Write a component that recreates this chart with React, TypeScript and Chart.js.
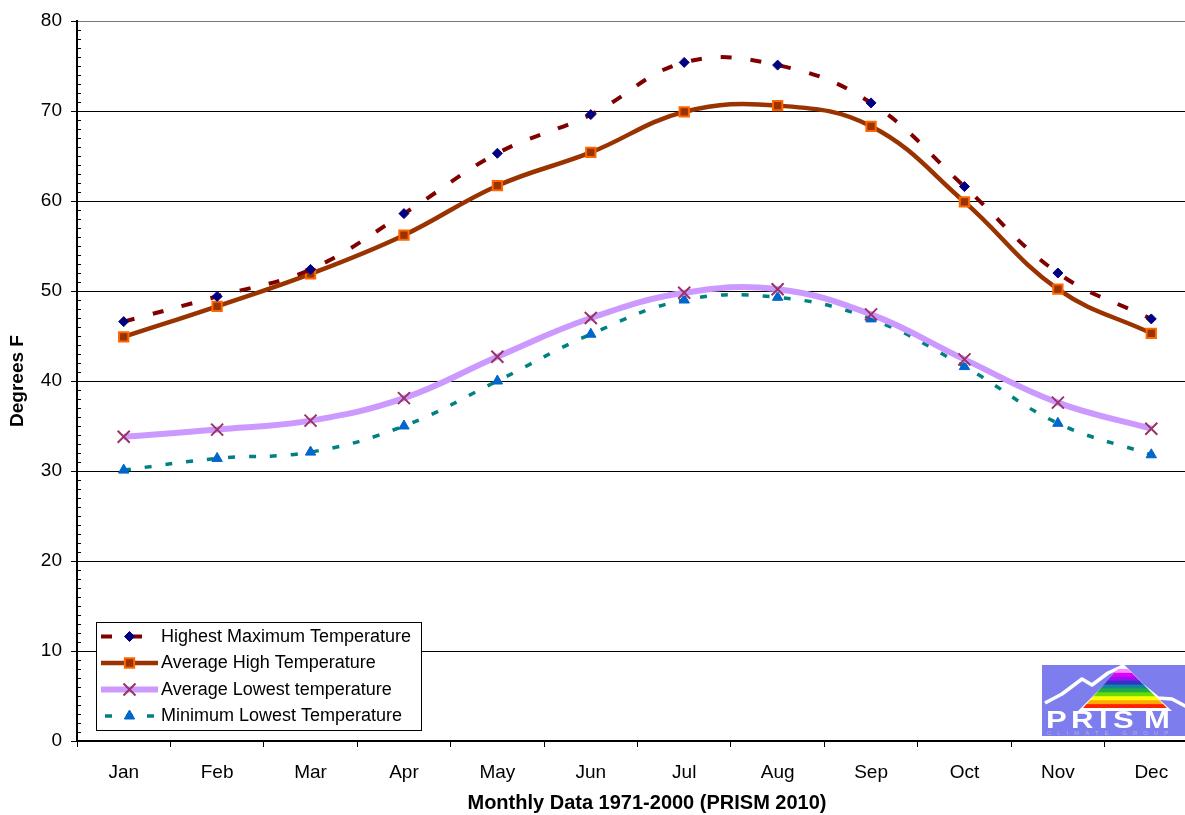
import React, { useEffect, useRef } from 'react';
import { Chart, registerables } from 'chart.js';

Chart.register(...registerables);

const months = ['Jan', 'Feb', 'Mar', 'Apr', 'May', 'Jun', 'Jul', 'Aug', 'Sep', 'Oct', 'Nov', 'Dec'];
const highestMax = [46.6, 49.4, 52.4, 58.6, 65.3, 69.6, 75.4, 75.1, 70.9, 61.6, 52.0, 46.9];
const avgHigh = [44.9, 48.3, 51.9, 56.2, 61.7, 65.4, 69.9, 70.6, 68.3, 59.9, 50.2, 45.3];
const avgLow = [33.8, 34.6, 35.6, 38.1, 42.7, 47.0, 49.8, 50.2, 47.4, 42.4, 37.6, 34.7];
const minLow = [30.1, 31.4, 32.1, 35.0, 40.0, 45.2, 49.0, 49.3, 46.9, 41.6, 35.3, 31.8];
const seriesNames = [
  'Highest Maximum Temperature',
  'Average High Temperature',
  'Average Lowest temperature',
  'Minimum Lowest Temperature',
];
const yMin = 0;
const yMax = 80;
const yMajor = 10;
const yTitle = 'Degrees F';
const xTitle = 'Monthly Data 1971-2000 (PRISM 2010)';
const logoText = 'PRISM';
const logoSub = 'CLIMATE GROUP';

const FONT = "'Liberation Sans', Arial, sans-serif";
const CANVAS_W = 1212;
const CANVAS_H = 815;

type Sty = {
  line: string; width: number; dash: number[];
  point: string; r: number; fill: string; stroke: string; plw: number;
};
const styles: Sty[] = [
  { line: '#800000', width: 4, dash: [11, 19], point: 'rectRot', r: 5, fill: '#000080', stroke: '#000080', plw: 1 },
  { line: '#993300', width: 4.5, dash: [], point: 'rect', r: 6.6, fill: '#993300', stroke: '#FF6600', plw: 2 },
  { line: '#CC99FF', width: 6, dash: [], point: 'crossRot', r: 8.5, fill: '#993366', stroke: '#993366', plw: 2 },
  { line: '#008080', width: 3.5, dash: [7, 14], point: 'triangle', r: 6, fill: '#0066CC', stroke: '#0066CC', plw: 1 },
];

function drawMarker(ctx: CanvasRenderingContext2D, s: Sty, x: number, y: number) {
  const r = s.r;
  ctx.save();
  ctx.setLineDash([]);
  ctx.fillStyle = s.fill;
  ctx.strokeStyle = s.stroke;
  ctx.lineWidth = s.plw;
  ctx.beginPath();
  if (s.point === 'rectRot') {
    ctx.moveTo(x, y - r); ctx.lineTo(x + r, y); ctx.lineTo(x, y + r); ctx.lineTo(x - r, y); ctx.closePath();
    ctx.fill(); ctx.stroke();
  } else if (s.point === 'rect') {
    const h = r * Math.SQRT1_2;
    ctx.rect(x - h, y - h, 2 * h, 2 * h);
    ctx.fill(); ctx.stroke();
  } else if (s.point === 'crossRot') {
    const d = r * Math.SQRT1_2;
    ctx.moveTo(x - d, y - d); ctx.lineTo(x + d, y + d);
    ctx.moveTo(x + d, y - d); ctx.lineTo(x - d, y + d);
    ctx.stroke();
  } else if (s.point === 'triangle') {
    ctx.moveTo(x, y - r);
    ctx.lineTo(x + r * Math.sin(2 * Math.PI / 3), y - r * Math.cos(2 * Math.PI / 3));
    ctx.lineTo(x + r * Math.sin(4 * Math.PI / 3), y - r * Math.cos(4 * Math.PI / 3));
    ctx.closePath();
    ctx.fill(); ctx.stroke();
  }
  ctx.restore();
}

function drawLogo(ctx: CanvasRenderingContext2D, x0: number, y0: number) {
  ctx.save();
  ctx.fillStyle = '#7d7ded';
  ctx.fillRect(x0, y0, 150, 71);
  // white mountain ridges
  ctx.strokeStyle = '#ffffff';
  ctx.lineWidth = 3.5;
  ctx.lineJoin = 'round';
  ctx.beginPath();
  ctx.moveTo(x0 + 3, y0 + 38);
  ctx.lineTo(x0 + 20, y0 + 29);
  ctx.lineTo(x0 + 40, y0 + 14);
  ctx.lineTo(x0 + 50, y0 + 20);
  ctx.lineTo(x0 + 66, y0 + 8);
  ctx.lineTo(x0 + 81, y0 + 1);
  ctx.lineTo(x0 + 100, y0 + 20);
  ctx.lineTo(x0 + 116, y0 + 33);
  ctx.lineTo(x0 + 130, y0 + 34);
  ctx.lineTo(x0 + 145, y0 + 42);
  ctx.stroke();
  // white triangle behind rainbow
  ctx.fillStyle = '#ffffff';
  ctx.beginPath();
  ctx.moveTo(x0 + 81, y0 + 1);
  ctx.lineTo(x0 + 130, y0 + 46);
  ctx.lineTo(x0 + 36, y0 + 46);
  ctx.closePath();
  ctx.fill();
  // rainbow triangle
  ctx.save();
  ctx.beginPath();
  ctx.moveTo(x0 + 76, y0 + 4);
  ctx.lineTo(x0 + 86, y0 + 4);
  ctx.lineTo(x0 + 125, y0 + 43);
  ctx.lineTo(x0 + 41, y0 + 43);
  ctx.closePath();
  ctx.clip();
  const bands = ['#ff88ff', '#dd00ff', '#9911ee', '#3333cc', '#118899', '#22aa44', '#66dd00', '#ffff00', '#ffaa00', '#ff2200'];
  const top = y0 + 4;
  const bh = 39 / bands.length;
  bands.forEach((c, i) => {
    ctx.fillStyle = c;
    ctx.fillRect(x0 + 30, top + i * bh, 100, bh + 0.5);
  });
  ctx.restore();
  // PRISM text
  ctx.fillStyle = '#ffffff';
  ctx.font = `bold 23px ${FONT}`;
  ctx.textBaseline = 'alphabetic';
  const xs = [4, 29, 57, 71, 102];
  logoText.split('').forEach((ch, i) => {
    ctx.save();
    ctx.translate(x0 + xs[i], y0 + 63);
    ctx.scale(1.35, 1);
    ctx.fillText(ch, 0, 0);
    ctx.restore();
  });
  ctx.fillStyle = '#b0b0d8';
  ctx.font = `6px ${FONT}`;
  (ctx as any).letterSpacing = '6px';
  ctx.fillText(logoSub, x0 + 5, y0 + 70);
  ctx.restore();
}

const decorPlugin = {
  id: 'decor',
  afterDraw(chart: any) {
    const ctx: CanvasRenderingContext2D = chart.ctx;
    const area = chart.chartArea;
    const ys = chart.scales.y;
    ctx.save();
    // y ticks: major outside, minor inside
    ctx.strokeStyle = '#000';
    ctx.lineWidth = 1;
    ctx.beginPath();
    for (let v = yMin; v <= yMax; v++) {
      const py = Math.round(ys.getPixelForValue(v)) + 0.5;
      if (v % yMajor === 0) {
        ctx.moveTo(area.left - 6, py); ctx.lineTo(area.left, py);
      } else {
        ctx.moveTo(area.left, py); ctx.lineTo(area.left + 4, py);
      }
    }
    ctx.stroke();

    // axis titles
    ctx.fillStyle = '#000';
    ctx.font = `bold 19px ${FONT}`;
    ctx.textAlign = 'center';
    ctx.textBaseline = 'middle';
    ctx.save();
    ctx.translate(18, (area.top + area.bottom) / 2);
    ctx.rotate(-Math.PI / 2);
    ctx.fillText(yTitle, 0, 0);
    ctx.restore();
    ctx.font = `bold 20px ${FONT}`;
    ctx.fillText(xTitle, 647, 803);

    // legend
    const lx = 96.5, ly = 622.5, lw = 325, lh = 108;
    ctx.fillStyle = '#fff';
    ctx.fillRect(lx, ly, lw, lh);
    ctx.strokeStyle = '#000';
    ctx.lineWidth = 1;
    ctx.strokeRect(lx, ly, lw, lh);
    const rowY = [636.5, 663, 689.5, 716];
    seriesNames.forEach((name, i) => {
      const s = styles[i];
      const y = rowY[i];
      ctx.save();
      ctx.strokeStyle = s.line;
      ctx.lineWidth = s.width;
      ctx.setLineDash(s.dash);
      ctx.lineDashOffset = i === 3 ? -4 : 0;
      ctx.beginPath();
      ctx.moveTo(101, y);
      ctx.lineTo(158, y);
      ctx.stroke();
      ctx.restore();
      drawMarker(ctx, s, 129.5, y);
      ctx.fillStyle = '#000';
      ctx.font = `18px ${FONT}`;
      ctx.textAlign = 'left';
      ctx.textBaseline = 'middle';
      ctx.fillText(name, 161, y + 0.5);
    });

    drawLogo(ctx, 1042, 665);
    ctx.restore();
  },
};

export default function App() {
  const ref = useRef<HTMLCanvasElement | null>(null);
  useEffect(() => {
    if (!ref.current) return;
    const series = [highestMax, avgHigh, avgLow, minLow];
    const chart = new Chart(ref.current, {
      type: 'line',
      data: {
        labels: months,
        datasets: series.map((d, i) => {
          const s = styles[i];
          return {
            label: seriesNames[i],
            data: d,
            borderColor: s.line,
            borderWidth: s.width,
            borderDash: s.dash,
            borderCapStyle: 'butt',
            tension: 0.4,
            fill: false,
            pointStyle: s.point,
            pointRadius: s.r,
            pointHoverRadius: s.r,
            pointBackgroundColor: s.fill,
            pointBorderColor: s.stroke,
            pointBorderWidth: s.plw,
          } as any;
        }),
      },
      options: {
        responsive: false,
        animation: false,
        devicePixelRatio: 1,
        layout: { padding: { top: 21, right: CANVAS_W - 1198, left: 0, bottom: 0 } },
        plugins: { legend: { display: false }, tooltip: { enabled: false }, title: { display: false } },
        scales: {
          x: {
            type: 'category',
            offset: true,
            grid: { offset: true, drawOnChartArea: false, drawTicks: true, tickLength: 6, color: '#000', lineWidth: 1 },
            border: { display: true, color: '#000', width: 2 },
            ticks: { color: '#000', font: { family: FONT, size: 19 }, padding: 14, maxRotation: 0, autoSkip: false },
            afterFit: (s: any) => { s.height = 74; s.paddingLeft = 0; s.paddingRight = 0; },
          },
          y: {
            min: yMin,
            max: yMax,
            grid: {
              drawTicks: false,
              color: (c: any) => (c.tick && c.tick.value % yMajor === 0 ? (c.tick.value === yMax ? '#777' : '#000') : 'rgba(0,0,0,0)'),
              lineWidth: 1,
            },
            border: { display: true, color: '#000', width: 2 },
            ticks: {
              stepSize: 1,
              autoSkip: false,
              color: '#000',
              font: { family: FONT, size: 19 },
              padding: 15,
              callback: (v: any) => (Number(v) % yMajor === 0 ? String(v) : ''),
            },
            afterFit: (s: any) => { s.width = 77; s.paddingTop = 0; s.paddingBottom = 0; },
          },
        },
      } as any,
      plugins: [decorPlugin],
    });
    return () => chart.destroy();
  }, []);
  return (
    <div style={{ position: 'fixed', left: 0, top: 0, width: 1185, height: 815, overflow: 'hidden', background: '#fff' }}>
      <canvas ref={ref} width={CANVAS_W} height={CANVAS_H} style={{ display: 'block', width: CANVAS_W, height: CANVAS_H }} />
    </div>
  );
}
